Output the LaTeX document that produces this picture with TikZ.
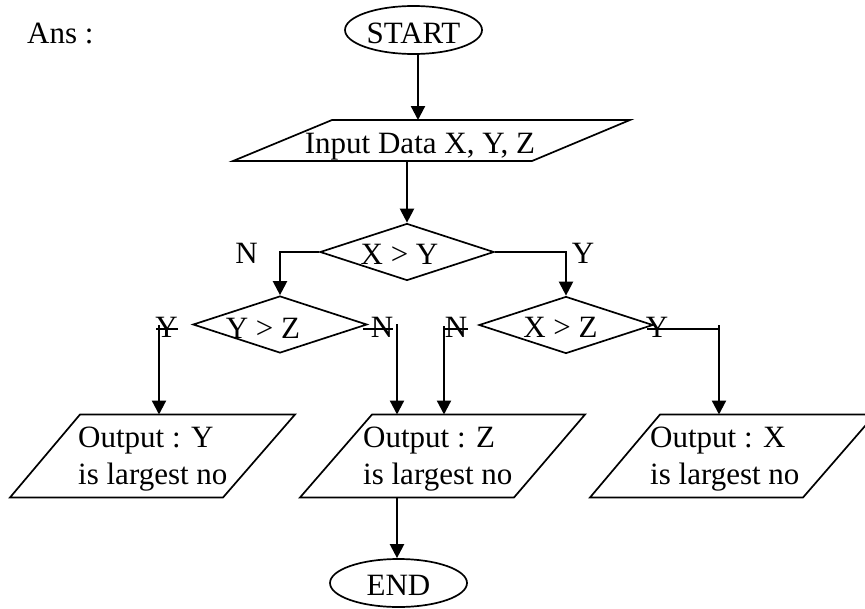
\documentclass[tikz,border=0pt]{standalone}
\usepackage{fontspec}
\setmainfont{Liberation Serif}
\usetikzlibrary{shapes.geometric,arrows.meta}
\begin{document}
\begin{tikzpicture}[x=1pt,y=-1pt,
  txt/.style={inner sep=0pt, font=\fontsize{31}{37}\selectfont},
  outline/.style={draw, line width=1.7pt, line join=miter},
  terminal/.style={outline, ellipse, inner sep=0pt, minimum width=137pt, minimum height=48pt,
    font=\fontsize{31}{37}\selectfont},
  decision/.style={outline, diamond, inner sep=0pt, aspect=3.05, minimum width=174pt, minimum height=57pt},
  flow/.style={line width=2.2pt, -{Triangle[width=14pt,length=14pt]}},
  stub/.style={line width=1.8pt},
]
\useasboundingbox (0,0) rectangle (865,608);

% heading
\node[txt, anchor=base west] (ans) at (27,43) {Ans :};

% terminals
\node[terminal, text height=26pt, text depth=0pt] (start) at (413.5,30) {START};
\node[terminal, text height=24pt, text depth=0pt] (end) at (398.5,583) {END};

% input parallelogram
\coordinate (inBL) at (233,161);
\coordinate (inTL) at (332,120);
\coordinate (inTR) at (630,120);
\coordinate (inBR) at (532,161);
\draw[outline] (inBL) -- (inTL) -- (inTR) -- (inBR) -- cycle;
\node[txt, anchor=base] (inputtext) at (420,153.3) {Input Data X, Y, Z};

% decisions
\node[decision] (d1) at (407,252) {};
\node[txt, anchor=base] (d1text) at (399.5,264) {X > Y};
\node[decision] (d2) at (280,324.5) {};
\node[txt, anchor=base] (d2text) at (263,338) {Y > Z};
\node[decision] (d3) at (566,325) {};
\node[txt, anchor=base] (d3text) at (560.5,337) {X > Z};

% output parallelograms
\coordinate (o1BL) at (10,497.5);
\coordinate (o1TL) at (80,414.5);
\coordinate (o1TR) at (295,414.5);
\coordinate (o1BR) at (223,497.5);
\draw[outline] (o1BL) -- (o1TL) -- (o1TR) -- (o1BR) -- cycle;
\node[txt, anchor=north west, align=left] (o1text) at (78,426.5) {Output : Y\\is largest no};

\coordinate (o2BL) at (300,497.5);
\coordinate (o2TL) at (372,414.5);
\coordinate (o2TR) at (585,414.5);
\coordinate (o2BR) at (514,497.5);
\draw[outline] (o2BL) -- (o2TL) -- (o2TR) -- (o2BR) -- cycle;
\node[txt, anchor=north west, align=left] (o2text) at (363,426.5) {Output : Z\\is largest no};

\coordinate (o3BL) at (590,497.5);
\coordinate (o3TL) at (660,414.5);
\coordinate (o3TR) at (875,414.5);
\coordinate (o3BR) at (803,497.5);
\draw[outline] (o3BL) -- (o3TL) -- (o3TR) -- (o3BR) -- cycle;
\node[txt, anchor=north west, align=left] (o3text) at (650,426.5) {Output : X\\is largest no};

% main flow
\draw[flow] ([xshift=4.5pt]start.south) -- ([xshift=4.5pt]start.south |- inTL);
\draw[flow] (d1.north |- inBL) -- (d1.north);
\draw[flow] (d1.west) -| (d2.north);
\draw[flow] (d1.east) -| (d3.north);
\node[txt, anchor=base] (n1) at (246.5,263) {N};
\node[txt, anchor=base] (y1) at (583,263) {Y};

% branches of Y > Z
\node[txt, anchor=base] (y2) at (166.5,337) {Y};
\coordinate (y2a) at (156,329);
\coordinate (y2b) at (178,329);
\coordinate (y2top) at (159,325);
\draw[stub] (y2a) -- (y2b);
\draw[flow] (y2top) -- (y2top |- o1TL);

\node[txt, anchor=base] (n2) at (382,337) {N};
\coordinate (n2a) at (363,329);
\coordinate (n2b) at (393,329);
\coordinate (n2top) at (397,324);
\draw[stub] (n2a) -- (n2b);
\draw[flow] (n2top) -- (n2top |- o2TL);

% branches of X > Z
\node[txt, anchor=base] (n3) at (456,337) {N};
\coordinate (n3a) at (444,329);
\coordinate (n3b) at (468,329);
\coordinate (n3top) at (444,326);
\draw[stub] (n3a) -- (n3b);
\draw[flow] (n3top) -- (n3top |- o2TL);

\node[txt, anchor=base] (y3) at (657,337) {Y};
\coordinate (y3a) at (647,329);
\coordinate (y3b) at (719,329);
\coordinate (y3top) at (719,325);
\draw[stub] (y3a) -- (y3b);
\draw[flow] (y3top) -- (y3top |- o3TL);

% to the end
\draw[flow] ([xshift=-1.5pt]end.north |- o2BL) -- ([xshift=-1.5pt]end.north);
\end{tikzpicture}
\end{document}
